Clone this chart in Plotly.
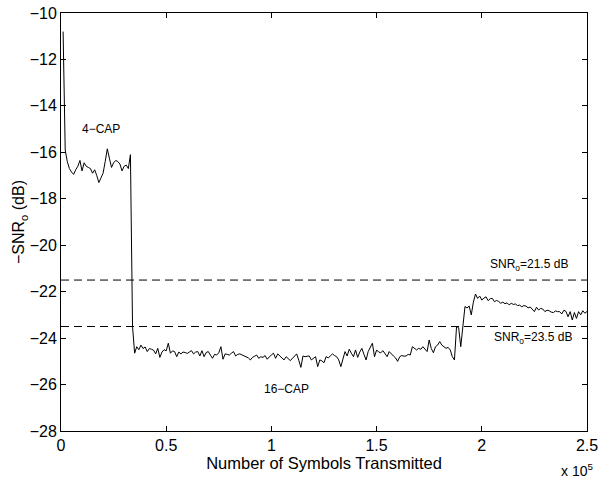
import plotly.graph_objects as go

# Symbols transmitted (in thousands of symbols)
symbols_k = list(range(1, 251))

snr_neg_db = [
    -10.8, -15.9, -16.4, -16.7, -16.85, -16.95, -16.75, -16.6, -16.35, -16.8,
    -16.45, -16.6, -16.65, -16.7, -16.9, -16.75, -17.0, -17.3, -17.1, -16.9,
    -16.4, -15.85, -16.25, -16.65, -16.45, -16.35, -16.4, -16.5, -16.8, -16.6,
    -16.55, -16.7, -16.1, -23.5, -24.65, -24.37, -24.5, -24.3, -24.45, -24.38,
    -24.58, -24.45, -24.48, -24.52, -24.68, -24.44, -24.83, -24.6, -24.5, -24.55,
    -24.22, -24.65, -24.55, -24.58, -24.8, -24.6, -24.68, -24.6, -24.62, -24.66,
    -24.6, -24.54, -24.68, -24.6, -24.58, -24.77, -24.54, -24.8, -24.62, -24.58,
    -24.73, -24.87, -24.7, -24.73, -24.63, -24.37, -24.91, -24.68, -24.7, -24.73,
    -24.65, -24.58, -24.77, -24.7, -24.68, -24.73, -24.76, -24.8, -24.85, -24.94,
    -24.83, -24.78, -24.73, -24.87, -24.8, -24.83, -24.75, -24.91, -24.8, -24.72,
    -24.65, -24.87, -24.68, -24.77, -24.82, -24.94, -24.8, -24.9, -24.97, -24.87,
    -24.75, -24.68, -24.95, -25.26, -24.77, -24.8, -24.78, -24.77, -24.94, -24.85,
    -24.8, -25.23, -24.94, -24.98, -25.06, -24.8, -24.85, -24.77, -24.68, -24.75,
    -24.8, -24.94, -25.23, -24.9, -24.58, -24.77, -24.48, -24.65, -24.8, -24.51,
    -24.83, -24.6, -24.44, -24.7, -24.94, -24.58, -24.4, -24.22, -24.8, -24.51,
    -24.6, -24.63, -24.54, -24.7, -24.8, -24.58, -24.7, -24.77, -24.85, -25.0,
    -24.8, -24.75, -24.78, -24.77, -24.7, -24.73, -24.37, -24.45, -24.51, -24.44,
    -24.48, -24.37, -24.5, -24.58, -24.08, -24.45, -24.63, -24.37, -24.3, -24.15,
    -24.3, -24.37, -24.44, -24.4, -24.51, -24.8, -24.94, -23.5, -23.55, -24.37,
    -23.45, -22.64, -22.7, -22.62, -23.0, -22.45, -22.1, -22.29, -22.19, -22.36,
    -22.28, -22.22, -22.39, -22.3, -22.29, -22.43, -22.38, -22.42, -22.5, -22.45,
    -22.52, -22.48, -22.57, -22.5, -22.55, -22.53, -22.6, -22.58, -22.65, -22.6,
    -22.62, -22.7, -22.66, -22.75, -22.86, -22.67, -22.79, -22.72, -22.75, -22.86,
    -22.8, -22.82, -22.88, -22.9, -22.83, -22.86, -22.86, -22.96, -22.8, -22.85,
    -23.08, -22.86, -23.22, -22.9, -23.15, -22.86, -23.0, -22.82, -22.93, -22.85,
]

threshold_levels = [-21.5, -23.5]
x_span = [0, 250000]

x_tick_vals = [0, 50000, 100000, 150000, 200000, 250000]
x_tick_text = ["0", "0.5", "1", "1.5", "2", "2.5"]
y_tick_vals = [-28, -26, -24, -22, -20, -18, -16, -14, -12, -10]

FONT = "Liberation Sans, Arial, Helvetica, sans-serif"

fig = go.Figure()

for lvl in threshold_levels:
    fig.add_trace(go.Scatter(
        x=x_span, y=[lvl, lvl], mode="lines",
        line=dict(color="black", width=1, dash="8px,5px"),
        hoverinfo="skip", showlegend=False,
    ))

fig.add_trace(go.Scatter(
    x=[k * 1000 for k in symbols_k], y=snr_neg_db, mode="lines",
    line=dict(color="black", width=1), showlegend=False,
))

annots = [
    dict(x=19000, y=-15.0, text="4\u2212CAP"),
    dict(x=107000, y=-26.2, text="16\u2212CAP"),
    dict(x=222500, y=-20.85, text="SNR<sub>o</sub>=21.5 dB"),
    dict(x=224500, y=-24.0, text="SNR<sub>o</sub>=23.5 dB"),
]
for a in annots:
    fig.add_annotation(x=a["x"], y=a["y"], text=a["text"], showarrow=False,
                       xref="x", yref="y",
                       font=dict(family=FONT, size=12, color="black"))

fig.add_annotation(x=1.0152, y=-0.093, xref="paper", yref="paper",
                   xanchor="right", yanchor="middle", showarrow=False,
                   text="x 10<sup>5</sup>",
                   font=dict(family=FONT, size=14, color="black"))

axis_common = dict(
    showline=True, linecolor="black", linewidth=1, mirror="allticks",
    ticks="inside", ticklen=5, tickcolor="black", tickwidth=1,
    showgrid=False, zeroline=False, automargin=False,
    ticklabeloverflow="allow",
    tickfont=dict(family=FONT, size=16, color="black"),
)

fig.update_layout(
    width=600, height=481,
    margin=dict(l=61, r=13, t=13, b=50, autoexpand=False),
    paper_bgcolor="white", plot_bgcolor="white",
    font=dict(family=FONT, color="black"),
    xaxis=dict(range=x_span, tickvals=x_tick_vals, ticktext=x_tick_text,
               title=dict(text="Number of Symbols Transmitted",
                          font=dict(family=FONT, size=16.5), standoff=1),
               **axis_common),
    yaxis=dict(range=[-28, -10], tickvals=y_tick_vals,
               title=dict(text="\u2212SNR<sub>o</sub> (dB)",
                          font=dict(family=FONT, size=16), standoff=0),
               **axis_common),
)

# Remove the browser's default 8px body margin so the figure fills the window.
fig.write_html("out.html", config={"displayModeBar": False},
               post_script="document.body.style.margin='0px';")
